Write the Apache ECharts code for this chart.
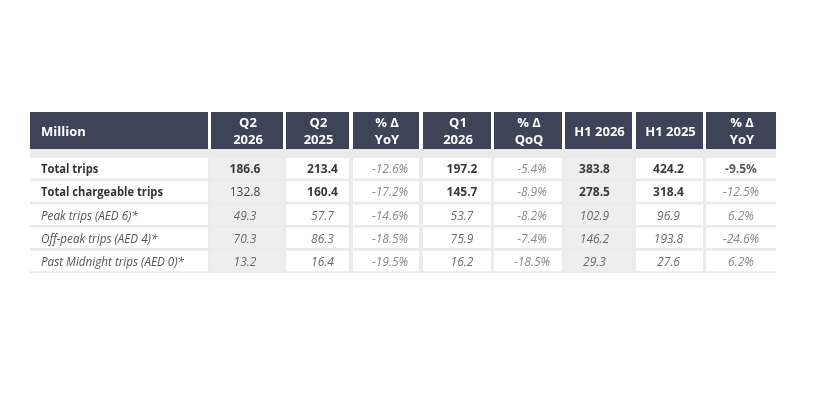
<!DOCTYPE html>
<html>
<head>
<meta charset="utf-8">
<script src="https://cdn.jsdelivr.net/npm/echarts@6/dist/echarts.min.js"></script>
<style>html,body{margin:0;padding:0;background:#fff}#c{width:838px;height:412px}</style>
</head>
<body>
<div id="c"></div>
<script>
// ---- data ----
const rowLabels = ['Total trips', 'Total chargeable trips', 'Peak trips (AED 6)*', 'Off-peak trips (AED 4)*', 'Past Midnight trips (AED 0)*'];
const headerLabels = ['Million', 'Q2\n2026', 'Q2\n2025', '% Δ\nYoY', 'Q1\n2026', '% Δ\nQoQ', 'H1 2026', 'H1 2025', '% Δ\nYoY'];
const q2_2026 = [186.6, 132.8, 49.3, 70.3, 13.2];
const q2_2025 = [213.4, 160.4, 57.7, 86.3, 16.4];
const yoyQ2 = [-12.6, -17.2, -14.6, -18.5, -19.5];
const q1_2026 = [197.2, 145.7, 53.7, 75.9, 16.2];
const qoq = [-5.4, -8.9, -8.2, -7.4, -18.5];
const h1_2026 = [383.8, 278.5, 102.9, 146.2, 29.3];
const h1_2025 = [424.2, 318.4, 96.9, 193.8, 27.6];
const yoyH1 = [-9.5, -12.5, 6.2, -24.6, 6.2];

// ---- layout (table geometry in axis units) ----
const columns = [null, q2_2026, q2_2025, yoyQ2, q1_2026, qoq, h1_2026, h1_2025, yoyH1];
const isPct = [false, false, false, true, false, true, false, false, true];
const colStart = [0, 181, 256, 323, 393, 464, 535, 606, 676];
const colEnd = [178, 253, 319, 389, 461, 532, 602, 673, 746];
const textShift = [0, -2, 5, 4, 5, 4, -4, -1, 0];
const headerH = 37, bodyTop = 46, rowPitch = 23.2, cellH = 20.5, tableH = 161;

const FONT = '"Open Sans", "Noto Sans", sans-serif';
const BOLD_LABEL_FONT = 'normal bold 12px ' + FONT;
const ITALIC_LABEL_FONT = 'italic normal 12.5px ' + FONT;

// horizontal condensation of label text (reference typeface is narrower)
const mctx = document.createElement('canvas').getContext('2d');
function textW(font, s) { mctx.font = font; return mctx.measureText(s).width; }
const boldSx = Math.min(1, 122 / textW(BOLD_LABEL_FONT, rowLabels[1]));
const italicSx = Math.min(1, 143 / textW(ITALIC_LABEL_FONT, rowLabels[4]));

const cells = [];
cells.push({ value: [0, 0], kind: 'band' });
headerLabels.forEach((h, c) => cells.push({ value: [c, -1], kind: 'header', text: h }));
rowLabels.forEach((lab, r) => {
  columns.forEach((col, c) => {
    let text;
    if (c === 0) text = lab;
    else text = isPct[c] ? col[r].toFixed(1) + '%' : col[r].toFixed(1);
    cells.push({ value: [c, r], kind: 'cell', text });
  });
});

function cellStyle(c, r) {
  if (c === 0) {
    return r < 2 ? { font: BOLD_LABEL_FONT, col: '#333333', sx: boldSx } : { font: ITALIC_LABEL_FONT, col: '#555555', sx: italicSx };
  }
  if (isPct[c]) {
    if (c === 8 && r === 0) return { font: 'normal bold 12px ' + FONT, col: '#5a5a5a', sx: 1 };
    return { font: 'italic normal 12px ' + FONT, col: '#8a8a8a', sx: 1 };
  }
  if (r < 2) {
    if (c === 1 && r === 1) return { font: 'normal normal 12px ' + FONT, col: '#444444', sx: 1 };
    return { font: 'normal bold 12px ' + FONT, col: '#3a3a3a', sx: 1 };
  }
  return { font: 'italic normal 12px ' + FONT, col: '#6a6a6a', sx: 1 };
}

function renderItem(params, api) {
  const d = cells[params.dataIndex];
  const c = d.value[0], r = d.value[1];
  if (d.kind === 'band') {
    const p0 = api.coord([0, headerH]);
    const p1 = api.coord([746, tableH]);
    return { type: 'rect', shape: { x: p0[0], y: p0[1], width: p1[0] - p0[0], height: p1[1] - p0[1] }, style: { fill: '#ebebeb' } };
  }
  if (d.kind === 'header') {
    const p0 = api.coord([colStart[c], 0]);
    const p1 = api.coord([colEnd[c], headerH]);
    const w = p1[0] - p0[0], h = p1[1] - p0[1];
    return {
      type: 'group', children: [
        { type: 'rect', shape: { x: p0[0], y: p0[1], width: w, height: h }, style: { fill: '#3d4458' } },
        {
          type: 'text', x: c === 0 ? p0[0] + 11 : p0[0] + w / 2 + 1, y: p0[1] + h / 2 + 1.5,
          style: { text: d.text, fill: '#ffffff', font: 'bold 13px ' + FONT, align: c === 0 ? 'left' : 'center', verticalAlign: 'middle', lineHeight: 17 }
        }
      ]
    };
  }
  const top = bodyTop + rowPitch * r;
  const p0 = api.coord([colStart[c], top]);
  const p1 = api.coord([colEnd[c], top + cellH]);
  const w = p1[0] - p0[0], h = p1[1] - p0[1];
  const st = cellStyle(c, r);
  const fill = (c === 1 || c === 6) ? '#eeeeee' : '#ffffff';
  return {
    type: 'group', children: [
      { type: 'rect', shape: { x: p0[0], y: p0[1], width: w, height: h }, style: { fill } },
      {
        type: 'text', x: c === 0 ? p0[0] + 11 : p0[0] + w / 2 + textShift[c], y: p0[1] + h / 2 + 1.5,
        scaleX: st.sx,
        style: { text: d.text, fill: st.col, font: st.font, align: c === 0 ? 'left' : 'center', verticalAlign: 'middle' }
      }
    ]
  };
}

const chart = echarts.init(document.getElementById('c'));
chart.setOption({
  animation: false,
  grid: { left: 30, top: 112, width: 746, height: 161 },
  xAxis: { type: 'value', min: 0, max: 746, show: false },
  yAxis: { type: 'value', min: 0, max: tableH, inverse: true, show: false },
  series: [{ type: 'custom', renderItem, data: cells, silent: true }]
});
</script>
</body>
</html>
